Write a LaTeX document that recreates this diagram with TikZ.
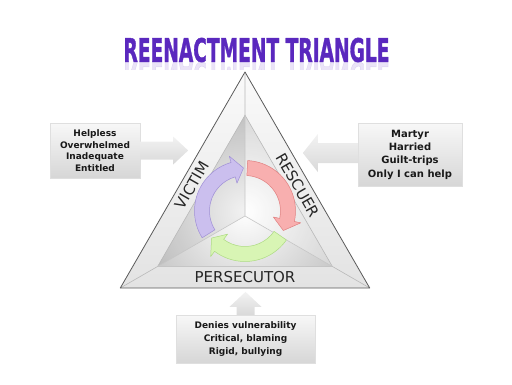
\documentclass[tikz,border=0pt]{standalone}
\usepackage{fontspec}
\setmainfont{DejaVu Sans}
\newfontfamily\titlefont[FakeBold=1.5]{DejaVu Sans Bold}
\usetikzlibrary{calc, shadows}

\definecolor{titlepurple}{HTML}{5A28BE}
\definecolor{edgegray}{HTML}{5A5A5A}
\definecolor{cycP}{HTML}{CBBFEE}
\definecolor{cycPd}{HTML}{9F8FD6}
\definecolor{cycR}{HTML}{F8AFAF}
\definecolor{cycRd}{HTML}{E07F7F}
\definecolor{cycG}{HTML}{D8F5B4}
\definecolor{cycGd}{HTML}{ADDB82}

\begin{document}
\begin{tikzpicture}[
    x=1pt, y=1pt,
    infobox/.style = {rectangle, inner sep=2pt, align=center,
      top color=gray!6, bottom color=gray!32, draw=gray!25, line width=.3pt,
      drop shadow={opacity=.25, shadow xshift=1pt, shadow yshift=-1pt},
      font=\bfseries\fontsize{9}{11.7}\selectfont, text=black!90},
    blockarrow/.style = {top color=gray!10, bottom color=gray!30},
    rolelbl/.style = {inner sep=0pt, font=\fontsize{15}{15}\selectfont, text=black!85},
    edgeline/.style = {draw=edgegray, line width=.8pt, line join=round},
    bevel/.style = {draw=gray!55, line width=.6pt},
  ]

  \useasboundingbox (0,0) rectangle (512,384);

  % ---------- 参数 ----------
  \def\k{0.70}        % 内三角形缩放比例
  \def\Ro{50.5pt}     % 循环箭头外半径
  \def\ri{35.5pt}     % 循环箭头内半径
  \def\Rm{43pt}       % 箭头尖所在半径
  \def\Rh{57pt}       % 箭头头部外缘
  \def\rh{29pt}       % 箭头头部内缘

  % ---------- 关键点 ----------
  \coordinate (A) at (245,312);
  \coordinate (L) at (120.3,96);
  \coordinate (R) at (369.7,96);
  \coordinate (O) at (245,168);
  \coordinate (C) at ($(O)+(0,5)$);   % 循环箭头圆心
  \coordinate (iA) at ($(O)!\k!(A)$);
  \coordinate (iL) at ($(O)!\k!(L)$);
  \coordinate (iR) at ($(O)!\k!(R)$);
  \coordinate (mAL) at ($(A)!0.5!(L)$);
  \coordinate (mAR) at ($(A)!0.5!(R)$);
  \coordinate (mLR) at ($(L)!0.5!(R)$);

  % ---------- 标题 ----------
  \node (title) at (256.5,334)
        {\resizebox{266pt}{24pt}{\color{titlepurple}\titlefont REENACTMENT TRIANGLE}};
  \begin{scope}
    \clip (110,315) rectangle (400,322);
    \node[inner sep=0pt, opacity=.13] (titleshadow) at (256.5,310)
          {\scalebox{1}[-1]{\resizebox{266pt}{24pt}{\color{titlepurple}\titlefont REENACTMENT TRIANGLE}}};
  \end{scope}

  % ---------- 三角形底色 ----------
  \shade[top color=gray!4, bottom color=gray!22] (A) -- (L) -- (R) -- cycle;
  \begin{scope}
    \clip (iA) -- (iL) -- (iR) -- cycle;
    \shade[inner color=white, outer color=gray!50] (C) circle (120pt);
    \fill[black, opacity=.05] (O) -- (iA) -- (iL) -- cycle;
    \fill[white, opacity=.25] (O) -- (iA) -- (iR) -- cycle;
  \end{scope}

  % ---------- 斜棱 / 内边 / 中心线 ----------
  \draw[bevel] (A) -- (iA) (L) -- (iL) (R) -- (iR);
  \draw[bevel] (iA) -- (iL) -- (iR) -- cycle;
  \draw[bevel, draw=gray!45] (O) -- (iA) (O) -- (iL) (O) -- (iR);
  \draw[edgeline] (A) -- (L) -- (R) -- cycle;

  % ---------- 循环箭头（尾角 / 头根角 / 尖角）----------
  \foreach \ta/\tb/\tc/\col/\edgecol in {212/106/92/cycP/cycPd,
                                        87/-12/-27/cycR/cycRd,
                                        -35/-127/-141/cycG/cycGd}
    \filldraw[fill=\col, draw=\edgecol, line width=.5pt, line join=round]
      ($(C)+(\ta:\Ro)$) arc[start angle=\ta, end angle=\tb, radius=\Ro]
      -- ($(C)+(\tb:\Rh)$) -- ($(C)+(\tc:\Rm)$) -- ($(C)+(\tb:\rh)$)
      -- ($(C)+(\tb:\ri)$) arc[start angle=\tb, end angle=\ta, radius=\ri] -- cycle;

  % ---------- 三个角色 ----------
  \node[rolelbl, rotate=60]  (victim)     at ($(O)!0.85!(mAL)$) {VICTIM};
  \node[rolelbl, rotate=-60] (rescuer)    at ($(O)!0.85!(mAR)$) {RESCUER};
  \node[rolelbl]             (persecutor) at ($(O)!0.85!(mLR)$) {PERSECUTOR};

  % ---------- 说明框 ----------
  \node[infobox, minimum width=90pt, minimum height=55pt] (victimbox) at (95,233.5)
        {Helpless\\Overwhelmed\\Inadequate\\Entitled};
  \node[infobox, minimum width=104pt, minimum height=63pt,
        font=\bfseries\fontsize{10}{13.3}\selectfont] (rescuerbox) at (410,229.5)
        {Martyr\\Harried\\Guilt-trips\\Only I can help};
  \node[infobox, minimum width=139pt, minimum height=48pt,
        font=\bfseries\fontsize{9}{13}\selectfont] (persbox) at (245.5,45)
        {Denies vulnerability\\Critical, blaming\\Rigid, bullying};

  % ---------- 指向三角形的块状箭头 ----------
  \shade[blockarrow] ($(victimbox.east)+(0,9)$) -- ++(33,0) -- ++(0,5)
        -- ++(15,-14) -- ++(-15,-14) -- ++(0,5) -- ++(-33,0) -- cycle;
  \shade[blockarrow] ($(rescuerbox.west)+(0,11.5)$) -- ++(-40,0) -- ++(0,9)
        -- ++(-15,-19) -- ++(15,-19) -- ++(0,9) -- ++(40,0) -- cycle;
  \shade[blockarrow] ($(persbox.north)+(-9,0)$) -- ++(0,8) -- ++(-7,0)
        -- ++(16,15) -- ++(16,-15) -- ++(-7,0) -- ++(0,-8) -- cycle;

\end{tikzpicture}
\end{document}
